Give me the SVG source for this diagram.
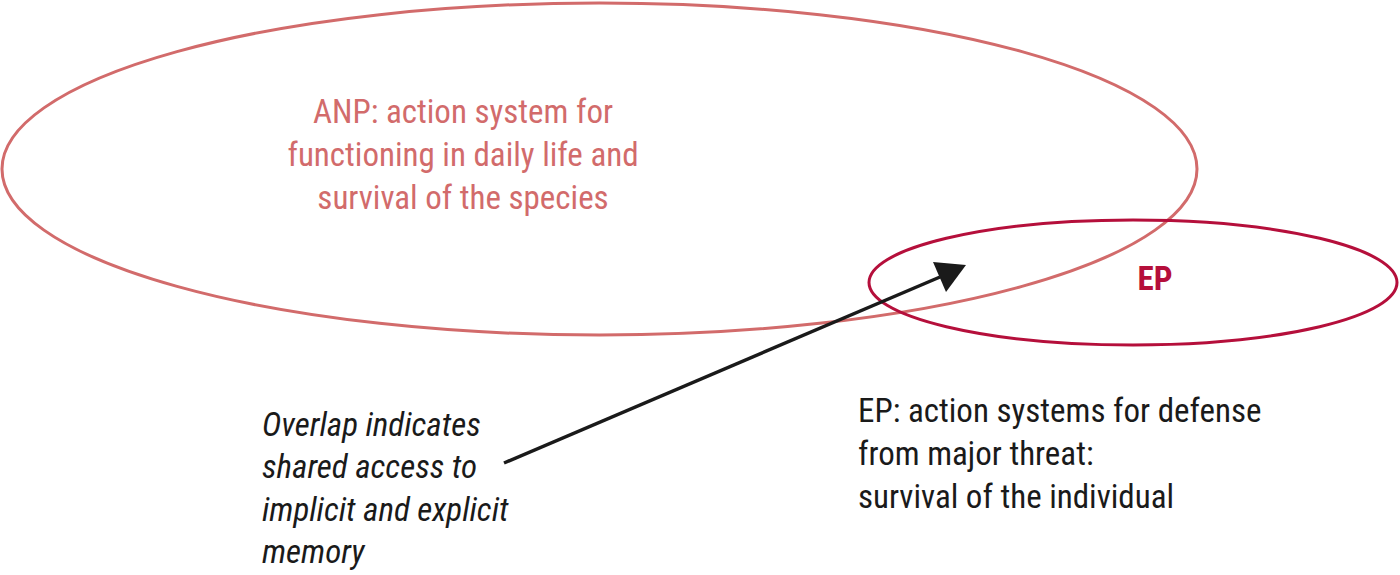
<svg xmlns="http://www.w3.org/2000/svg" width="1400" height="575" viewBox="0 0 1400 575">
<style>
text{font-family:"Liberation Sans Narrow","Roboto Condensed","Liberation Sans",sans-serif;font-size:33px;font-stretch:condensed}
.anp{fill:#d26b6b}
.ep{fill:#b50f3b}
.dark{fill:#1a1a1a}
</style>
<rect width="1400" height="575" fill="#fff"/>
<g id="anp">
<ellipse cx="599.5" cy="169" rx="597.5" ry="166" fill="none" stroke="#d26b6b" stroke-width="3"/>
<text class="anp" text-anchor="middle" x="463" y="123">ANP: action system for</text>
<text class="anp" text-anchor="middle" x="463" y="166">functioning in daily life and</text>
<text class="anp" text-anchor="middle" x="463" y="209">survival of the species</text>
</g>
<g id="ep">
<ellipse cx="1133" cy="282.5" rx="264" ry="62.5" fill="none" stroke="#b50f3b" stroke-width="3"/>
<text class="ep" text-anchor="middle" x="1155" y="290" font-weight="bold" font-size="37">EP</text>
</g>
<g id="connectors">
<line x1="504" y1="463" x2="940" y2="277" stroke="#1a1a1a" stroke-width="3.5"/>
<path d="M966,265 L933,262 L946,292 Z" fill="#1a1a1a"/>
</g>
<g id="overlap-note">
<text class="dark" x="262" y="436" font-style="italic" font-size="33.5">Overlap indicates</text>
<text class="dark" x="262" y="478" font-style="italic" font-size="33.5">shared access to</text>
<text class="dark" x="262" y="521" font-style="italic" font-size="33.5">implicit and explicit</text>
<text class="dark" x="262" y="563" font-style="italic" font-size="33.5">memory</text>
</g>
<g id="ep-note">
<text class="dark" x="858" y="422" font-size="32.5">EP: action systems for defense</text>
<text class="dark" x="858" y="465" font-size="32.5">from major threat:</text>
<text class="dark" x="858" y="508" font-size="32.5">survival of the individual</text>
</g>
</svg>
